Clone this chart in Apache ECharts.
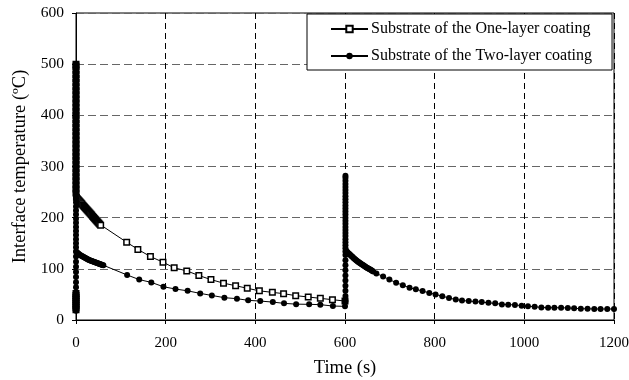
<!DOCTYPE html>
<html>
<head>
<meta charset="utf-8">
<script src="https://cdn.jsdelivr.net/npm/echarts@6/dist/echarts.min.js"></script>
<style>
  html, body { margin: 0; padding: 0; background: #fff; }
  #chart { width: 629px; height: 380px; }
</style>
</head>
<body>
<div id="chart"></div>
<script>
// Axis ticks
const xTicks = [0, 200, 400, 600, 800, 1000, 1200];
const yTicks = [0, 100, 200, 300, 400, 500, 600];

const seriesNames = [
  'Substrate of the One-layer coating',
  'Substrate of the Two-layer coating'
];

// One-layer coating: readings logged at t = 0 s (heating pulse)
const oneLayerStartTemps = [
  20, 24, 28, 32, 36, 40, 44, 48, 52,
  248, 256, 264, 272, 280, 288, 296, 304, 312, 320, 328, 336, 344, 352, 360, 368,
  376, 384, 392, 400, 408, 416, 424, 432, 440, 448, 456, 464, 472, 480, 488, 496, 500
];
// One-layer coating: cooling (time in s, temperature in ºC)
const oneLayerTime = [
  1, 3, 5, 7, 9, 11, 13, 15, 17, 19, 21, 23, 25, 27, 29, 31, 33, 35, 37, 39, 41, 43, 45, 47, 49, 51, 53, 55,
  113, 138, 166, 194, 219, 247, 274, 301, 329, 356, 382, 409, 438, 463, 490, 518, 545, 572, 600
];
const oneLayerTemp = [
  240, 237, 235, 233, 231, 229, 227, 225, 223, 221, 219, 217, 215, 213, 211, 209, 207, 205, 203, 201, 199, 197, 195, 193, 191, 189, 187, 185,
  152, 138, 124, 113, 102, 96, 87, 79, 72, 67, 62, 57, 54, 51.5, 47.6, 45, 42.3, 39.7, 37
];

// Two-layer coating: readings logged at t = 0 s (first pulse)
const twoLayerStartTemps = [
  18, 21, 24, 27, 30, 33, 36, 39, 42, 45, 48, 51, 54,
  64, 74, 84, 94, 104, 114, 124,
  134, 142, 150, 158, 166, 174, 182, 190, 198, 206, 214, 222, 230, 238, 246, 254, 262, 270,
  278, 286, 294, 302, 310, 318, 326, 334, 342, 350, 358, 366, 374, 382, 390, 398, 406, 414,
  422, 430, 438, 446, 454, 462, 470, 478, 486, 494, 500
];
// Two-layer coating: cooling after first pulse
const twoLayerTime1 = [
  1, 3, 5, 7, 9, 11, 13, 15, 17, 19, 21, 23, 25, 27, 29, 31, 33, 35, 37, 39, 41, 43, 45, 47, 49, 51, 53, 55, 57, 59, 61,
  114, 141, 168, 195, 222, 249, 277, 303, 331, 359, 384, 411, 439, 464, 491, 520, 545, 573, 600
];
const twoLayerTemp1 = [
  133, 131.5, 130, 128.5, 127, 126, 125, 124, 123, 122, 121, 120, 119, 118, 117.5, 117, 116, 115.5, 115, 114,
  113.5, 113, 112, 111.5, 111, 110, 109.5, 109, 108, 107.5, 107,
  88, 79, 73.5, 65, 60.5, 57, 52, 48, 43.6, 41.7, 38.4, 37, 35, 32.5, 31, 30.6, 30, 27.3, 26.7
];
// Two-layer coating: readings logged at t = 601 s (second pulse)
const reheatTime = 601;
const twoLayerReheatTemps = [
  37, 47, 57, 67, 77, 87, 97, 107, 117, 127,
  134, 140, 146, 152, 158, 164, 170, 176, 182, 188, 194, 200, 206, 212, 218, 224, 230,
  236, 242, 248, 254, 260, 266, 272, 278, 282
];
// Two-layer coating: cooling after second pulse
const twoLayerTime2 = [
  603, 605, 607, 609, 611, 613, 615, 617, 619, 621, 623, 625, 627, 629, 631, 633, 635, 637, 639, 641,
  643, 645, 647, 649, 651, 653, 655, 657, 659, 661, 663,
  670, 685, 699, 714, 729, 744, 758, 773, 788, 802, 817, 832, 847, 861, 876, 891, 905, 920, 935, 950,
  964, 979, 994, 1008, 1023, 1038, 1053, 1067, 1082, 1097, 1111, 1126, 1141, 1156, 1170, 1185, 1200
];
const twoLayerTemp2 = [
  135, 133, 131, 129.5, 128, 126, 124.5, 123, 121, 119.5, 118, 117, 115.5, 114, 113, 111.5, 110.5, 109, 108, 107,
  105.5, 104.5, 103, 102, 101, 100, 99, 98, 97, 96, 95,
  91, 85, 79, 73, 68, 63, 60, 56.5, 53, 50, 46.5, 43, 40, 38, 37, 36, 35, 33.5, 32.5, 30.5,
  30, 29.5, 28, 27, 26, 24.5, 24, 24, 24, 23.5, 23, 22, 22, 21.5, 21.5, 21.5, 21.5
];

function pairs(times, temps) {
  return times.map((t, i) => [t, temps[i]]);
}
function atTime(t, temps) {
  return temps.map(v => [t, v]);
}

const oneLayerData = atTime(0, oneLayerStartTemps)
  .concat(pairs(oneLayerTime, oneLayerTemp));
const twoLayerData = atTime(0, twoLayerStartTemps)
  .concat(pairs(twoLayerTime1, twoLayerTemp1))
  .concat(atTime(reheatTime, twoLayerReheatTemps))
  .concat(pairs(twoLayerTime2, twoLayerTemp2));

const FONT = "'Liberation Serif', 'Times New Roman', serif";

const chart = echarts.init(document.getElementById('chart'), null, { renderer: 'canvas' });
chart.setOption({
  animation: false,
  backgroundColor: '#fff',
  grid: {
    left: 76, right: 15, top: 13, bottom: 60,
    outerBoundsMode: 'none',
    show: true, borderColor: '#000', borderWidth: 1, backgroundColor: 'transparent'
  },
  legend: {
    orient: 'vertical',
    left: 307, top: 14,
    padding: [7, 20, 6, 23],
    itemWidth: 37, itemHeight: 8, itemGap: 11,
    backgroundColor: '#fff', borderColor: '#000', borderWidth: 1, borderRadius: 0,
    textStyle: { fontFamily: FONT, fontSize: 16, color: '#000', padding: [0, 0, 0, -2] },
    data: seriesNames
  },
  xAxis: {
    type: 'value',
    min: xTicks[0], max: xTicks[xTicks.length - 1], interval: xTicks[1] - xTicks[0],
    name: 'Time (s)', nameLocation: 'middle', nameGap: 39,
    nameTextStyle: { fontFamily: FONT, fontSize: 18.5, color: '#000' },
    axisLine: { show: true, lineStyle: { color: '#000', width: 1 } },
    axisTick: { show: true, length: 4, inside: false, lineStyle: { color: '#000' } },
    axisLabel: { fontFamily: FONT, fontSize: 15, color: '#000', margin: 16,
      formatter: v => String(v) },
    splitLine: { show: true, lineStyle: { color: '#000', type: [6, 4], width: 1 } }
  },
  yAxis: {
    type: 'value',
    min: yTicks[0], max: yTicks[yTicks.length - 1], interval: yTicks[1] - yTicks[0],
    name: 'Interface temperature (ºC)', nameLocation: 'middle', nameGap: 44, nameRotate: 90,
    nameTextStyle: { fontFamily: FONT, fontSize: 18.5, color: '#000' },
    axisLine: { show: true, lineStyle: { color: '#000', width: 1 } },
    axisTick: { show: true, length: 4, inside: false, lineStyle: { color: '#000' } },
    axisLabel: { fontFamily: FONT, fontSize: 15.5, color: '#000', margin: 12,
      formatter: v => String(v) },
    splitLine: { show: true, lineStyle: { color: '#666', type: [8, 4], width: 1 } }
  },
  series: [
    {
      name: seriesNames[0],
      type: 'line',
      data: oneLayerData,
      symbol: 'rect', symbolSize: 5.5, showSymbol: true,
      lineStyle: { color: '#000', width: 1 },
      itemStyle: { color: '#fff', borderColor: '#000', borderWidth: 1.5 },
      z: 3
    },
    {
      name: seriesNames[1],
      type: 'line',
      data: twoLayerData,
      symbol: 'circle', symbolSize: 6, showSymbol: true,
      lineStyle: { color: '#000', width: 1 },
      itemStyle: { color: '#000', borderColor: '#000', borderWidth: 0 },
      z: 4
    }
  ]
});
</script>
</body>
</html>
